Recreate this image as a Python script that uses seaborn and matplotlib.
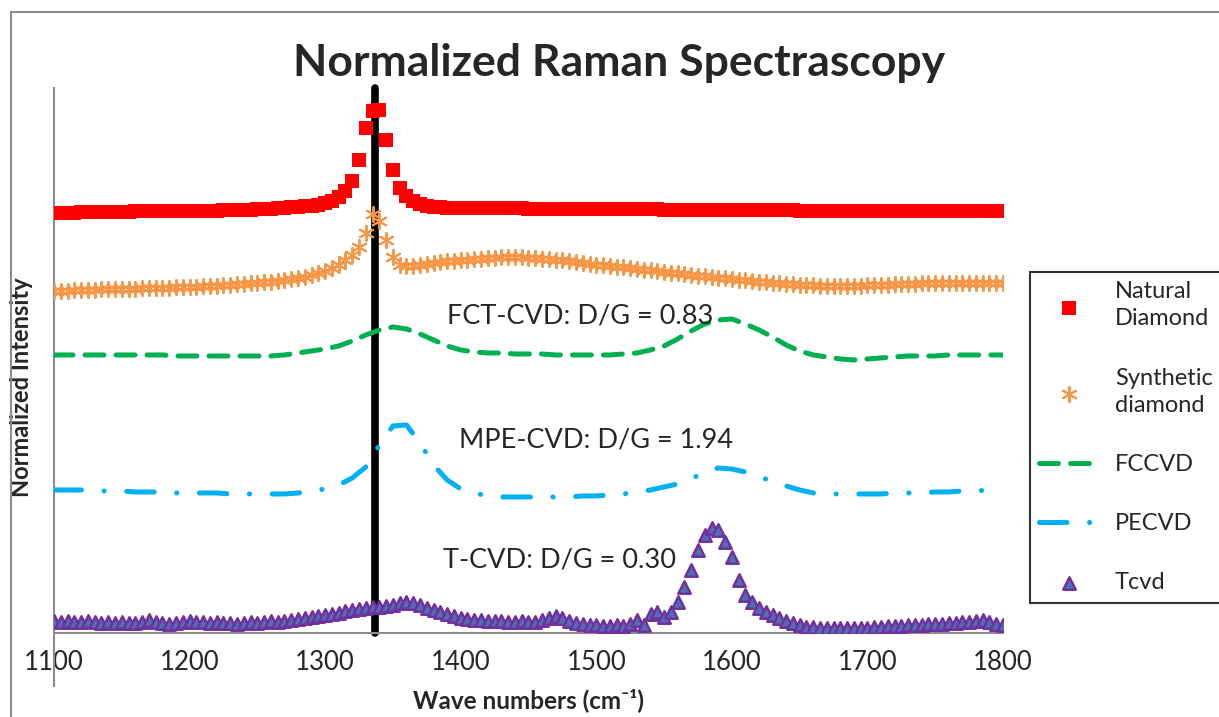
import numpy as np
import pandas as pd
import matplotlib.pyplot as plt
import seaborn as sns
from matplotlib.patches import Rectangle

# wave numbers (cm-1): marker series every 5, line series every 10
wn_fine = np.arange(1100, 1801, 5)
wn_coarse = np.arange(1100, 1801, 10)

natural = [4.20, 4.20, 4.20, 4.20, 4.21, 4.21, 4.21, 4.21, 4.21, 4.21,
           4.21, 4.21, 4.22, 4.22, 4.22, 4.22, 4.22, 4.22, 4.22, 4.22,
           4.22, 4.22, 4.22, 4.22, 4.22, 4.23, 4.23, 4.23, 4.23, 4.23,
           4.24, 4.24, 4.24, 4.25, 4.25, 4.26, 4.26, 4.27, 4.27, 4.28,
           4.30, 4.32, 4.36, 4.42, 4.52, 4.73, 5.05, 5.22, 5.23, 4.93,
           4.63, 4.45, 4.37, 4.32, 4.29, 4.27, 4.26, 4.26, 4.25, 4.25,
           4.25, 4.25, 4.25, 4.25, 4.25, 4.25, 4.25, 4.25, 4.25, 4.25,
           4.24, 4.24, 4.24, 4.24, 4.24, 4.24, 4.24, 4.24, 4.24, 4.24,
           4.24, 4.24, 4.24, 4.24, 4.24, 4.24, 4.24, 4.24, 4.24, 4.24,
           4.23, 4.23, 4.23, 4.23, 4.23, 4.23, 4.23, 4.23, 4.23, 4.23,
           4.23, 4.23, 4.23, 4.23, 4.23, 4.23, 4.23, 4.23, 4.23, 4.23,
           4.22, 4.22, 4.22, 4.22, 4.22, 4.22, 4.22, 4.22, 4.22, 4.22,
           4.22, 4.22, 4.22, 4.22, 4.22, 4.22, 4.22, 4.22, 4.22, 4.22,
           4.22, 4.22, 4.22, 4.22, 4.22, 4.22, 4.22, 4.22, 4.22, 4.22,
           4.22]

synthetic = [3.42, 3.42, 3.42, 3.43, 3.43, 3.43, 3.43, 3.44, 3.44, 3.44,
             3.44, 3.44, 3.44, 3.45, 3.45, 3.45, 3.45, 3.45, 3.46, 3.46,
             3.46, 3.46, 3.47, 3.47, 3.47, 3.48, 3.48, 3.49, 3.49, 3.50,
             3.50, 3.51, 3.51, 3.52, 3.53, 3.54, 3.55, 3.56, 3.58, 3.60,
             3.62, 3.65, 3.68, 3.73, 3.78, 3.86, 4.00, 4.19, 4.12, 3.93,
             3.76, 3.68, 3.67, 3.67, 3.68, 3.69, 3.70, 3.71, 3.72, 3.72,
             3.73, 3.73, 3.74, 3.74, 3.75, 3.75, 3.76, 3.76, 3.76, 3.76,
             3.75, 3.75, 3.74, 3.74, 3.73, 3.73, 3.72, 3.71, 3.70, 3.69,
             3.68, 3.68, 3.67, 3.66, 3.66, 3.65, 3.64, 3.63, 3.63, 3.62,
             3.61, 3.60, 3.60, 3.59, 3.58, 3.57, 3.57, 3.56, 3.55, 3.55,
             3.54, 3.53, 3.53, 3.52, 3.51, 3.51, 3.50, 3.50, 3.49, 3.49,
             3.48, 3.48, 3.48, 3.47, 3.47, 3.47, 3.47, 3.47, 3.47, 3.47,
             3.48, 3.48, 3.48, 3.48, 3.49, 3.49, 3.49, 3.49, 3.50, 3.50,
             3.50, 3.50, 3.50, 3.50, 3.50, 3.50, 3.50, 3.50, 3.50, 3.50,
             3.50]

tcvd = [0.12, 0.11, 0.12, 0.11, 0.11, 0.12, 0.11, 0.10, 0.11, 0.10,
        0.11, 0.10, 0.10, 0.11, 0.13, 0.11, 0.10, 0.09, 0.10, 0.11,
        0.12, 0.11, 0.11, 0.10, 0.11, 0.10, 0.10, 0.09, 0.10, 0.11,
        0.10, 0.11, 0.12, 0.11, 0.12, 0.13, 0.14, 0.15, 0.16, 0.17,
        0.18, 0.19, 0.20, 0.22, 0.23, 0.24, 0.25, 0.26, 0.26, 0.27,
        0.28, 0.30, 0.31, 0.30, 0.28, 0.25, 0.23, 0.21, 0.19, 0.17,
        0.15, 0.14, 0.13, 0.13, 0.12, 0.12, 0.12, 0.11, 0.11, 0.12,
        0.11, 0.11, 0.13, 0.15, 0.17, 0.15, 0.12, 0.10, 0.09, 0.08,
        0.08, 0.07, 0.07, 0.08, 0.07, 0.09, 0.13, 0.08, 0.19, 0.21,
        0.16, 0.21, 0.31, 0.46, 0.63, 0.83, 0.98, 1.05, 1.03, 0.91,
        0.76, 0.53, 0.38, 0.31, 0.25, 0.21, 0.18, 0.15, 0.12, 0.10,
        0.08, 0.06, 0.06, 0.05, 0.05, 0.05, 0.05, 0.05, 0.05, 0.05,
        0.05, 0.06, 0.06, 0.07, 0.07, 0.07, 0.08, 0.08, 0.08, 0.09,
        0.09, 0.09, 0.10, 0.10, 0.11, 0.11, 0.12, 0.13, 0.11, 0.09,
        0.08]

fccvd = [2.78, 2.78, 2.78, 2.78, 2.78, 2.78, 2.78, 2.78, 2.78, 2.77,
         2.77, 2.77, 2.77, 2.77, 2.77, 2.77, 2.77, 2.78, 2.80, 2.82,
         2.84, 2.87, 2.92, 2.98, 3.03, 3.06, 3.04, 2.99, 2.93, 2.87,
         2.83, 2.81, 2.80, 2.80, 2.79, 2.79, 2.79, 2.78, 2.78, 2.78,
         2.78, 2.78, 2.79, 2.80, 2.83, 2.87, 2.94, 3.02, 3.09, 3.13,
         3.14, 3.09, 3.03, 2.96, 2.88, 2.82, 2.78, 2.76, 2.74, 2.73,
         2.74, 2.75, 2.76, 2.77, 2.77, 2.77, 2.78, 2.78, 2.78, 2.78,
         2.78]

pecvd = [1.43, 1.43, 1.43, 1.42, 1.42, 1.42, 1.41, 1.41, 1.41, 1.40,
         1.40, 1.40, 1.40, 1.39, 1.39, 1.39, 1.39, 1.39, 1.40, 1.42,
         1.44, 1.48, 1.55, 1.66, 1.88, 2.07, 2.08, 1.90, 1.68, 1.53,
         1.44, 1.40, 1.37, 1.36, 1.36, 1.36, 1.36, 1.36, 1.36, 1.37,
         1.37, 1.38, 1.39, 1.41, 1.43, 1.46, 1.49, 1.54, 1.61, 1.65,
         1.64, 1.61, 1.56, 1.52, 1.47, 1.43, 1.40, 1.39, 1.39, 1.39,
         1.39, 1.39, 1.40, 1.40, 1.40, 1.41, 1.41, 1.42, 1.42, 1.43,
         1.43]

diamond_peak = 1337
x_ticks = [1100, 1200, 1300, 1400, 1500, 1600, 1700, 1800]

fine = pd.DataFrame({'wn': wn_fine, 'natural': natural,
                     'synthetic': synthetic, 'tcvd': tcvd})
coarse = pd.DataFrame({'wn': wn_coarse, 'fccvd': fccvd, 'pecvd': pecvd})

sns.set_theme(style='white')
plt.rcParams['font.family'] = ['Lato', 'DejaVu Sans']

fig = plt.figure(figsize=(12.19, 7.17), dpi=100)
ax = fig.add_axes([0.0443, 0.1172, 0.7785, 0.7601])

# outer chart frame
fig.patches.append(Rectangle((11 / 1219, -0.1), 1.2, 1.1 - 12 / 717,
                             transform=fig.transFigure, fill=False,
                             edgecolor='#8c8c8c', linewidth=1.5))

ax.axvline(diamond_peak, color='black', lw=5.5, solid_capstyle='round',
           clip_on=False, zorder=1.5)

sns.scatterplot(data=fine, x='wn', y='natural', marker='s', s=90,
                color='#FF0000', edgecolor='#FF0000', linewidth=0,
                label='Natural\nDiamond', ax=ax, zorder=3)
sns.scatterplot(data=fine, x='wn', y='synthetic', marker=(6, 2, 0), s=120,
                color='#F79646', edgecolor='#F79646', linewidth=1.4,
                label='Synthetic\ndiamond', ax=ax, zorder=3)
sns.lineplot(data=coarse, x='wn', y='fccvd', color='#00B050', lw=3.6,
             ls=(0, (3.8, 2.4)), dash_capstyle='round',
             label='FCCVD', ax=ax, zorder=3)
sns.lineplot(data=coarse, x='wn', y='pecvd', color='#00B0F0', lw=3.6,
             ls=(0, (5.5, 4.5, 0.05, 4.5)), dash_capstyle='round',
             label='PECVD', ax=ax, zorder=3)
sns.scatterplot(data=fine, x='wn', y='tcvd', marker='^', s=80,
                color='#4F6FB0', edgecolor='#7030A0', linewidth=1.8,
                label='Tcvd', ax=ax, zorder=3)

ax.text(1488, 3.17, 'FCT-CVD: D/G = 0.83', fontsize=19.5, ha='center', va='center')
ax.text(1500, 1.93, 'MPE-CVD: D/G = 1.94', fontsize=19.5, ha='center', va='center')
ax.text(1473, 0.73, 'T-CVD: D/G = 0.30', fontsize=19.5, ha='center', va='center')

ax.set_xlim(1100, 1800)
ax.set_ylim(0, 5.45)
ax.set_xticks(x_ticks)
ax.set_yticks([])
ax.tick_params(axis='x', length=0, pad=12, labelsize=18.5)
for side in ['top', 'right']:
    ax.spines[side].set_visible(False)
for side in ['left', 'bottom']:
    ax.spines[side].set_color('#8c8c8c')
    ax.spines[side].set_linewidth(1.5)
ax.spines['left'].set_bounds(-0.53, 5.45)

ax.set_xlabel('Wave numbers (cm⁻¹)', fontsize=17.5, fontweight='bold', labelpad=10)
ax.set_ylabel('Normalized Intensity', fontsize=17, fontweight='bold')
ax.yaxis.set_label_coords(-0.022, 0.451)

fig.text(0.508, 0.912, 'Normalized Raman Spectrascopy', fontsize=32,
         fontweight='bold', ha='center', va='center')

leg = ax.legend(loc='upper left', bbox_to_anchor=(1030 / 1219, 1 - 272 / 717),
                bbox_transform=fig.transFigure, borderaxespad=0, fontsize=17,
                frameon=True, fancybox=False, edgecolor='black',
                handlelength=2.5, handletextpad=0.7, borderpad=0.4,
                labelspacing=1.62)
leg.get_frame().set_linewidth(1.5)
for t in leg.get_texts():
    t.set_multialignment('left')
    t.set_linespacing(1.35)

fig.savefig('out.png', dpi=100)
